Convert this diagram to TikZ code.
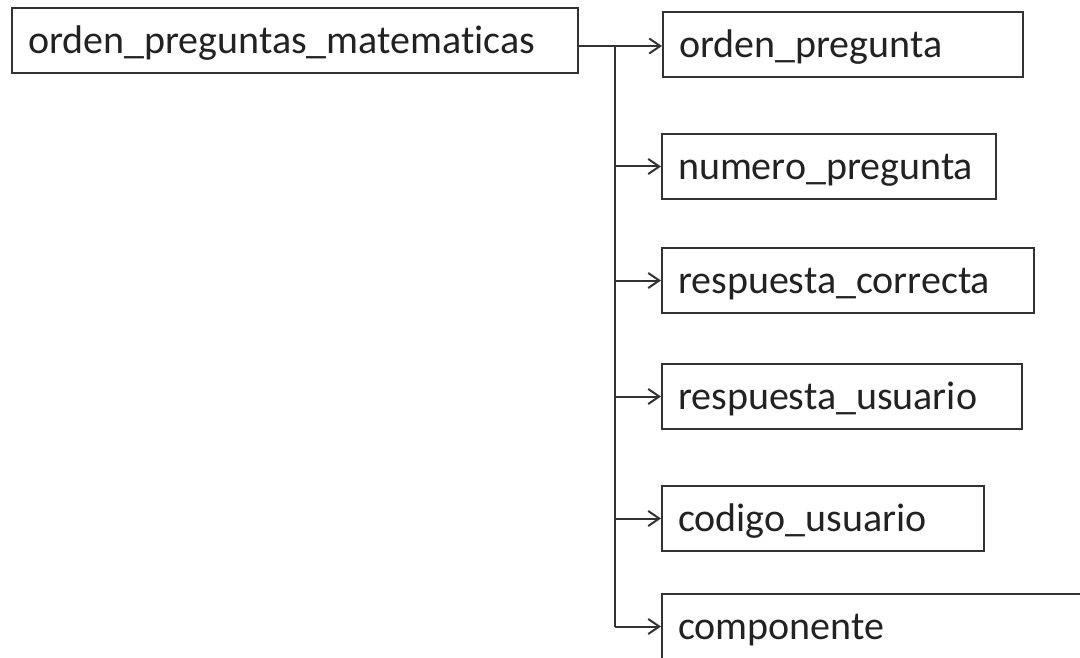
\documentclass[tikz,border=0pt]{standalone}
\usepackage{fontspec}
\setmainfont{Carlito}[Ligatures=NoCommon]
\usetikzlibrary{arrows.meta}
\definecolor{ln}{HTML}{333333}
\definecolor{tx}{HTML}{222222}
\begin{document}
\begin{tikzpicture}[x=1pt,y=-1pt,
  field/.style={draw=ln, line width=2pt, anchor=north west, inner ysep=0pt, inner xsep=16pt,
    minimum height=65pt, text width=#1-32pt, minimum width=#1, align=left,
    text=tx, font=\fontsize{40}{40}\selectfont, text depth=6pt, text height=32pt},
  conn/.style={draw=ln, line width=2pt},
  arr/.style={conn, -{Straight Barb[length=11pt,width=15pt,line width=2pt]}}]
\useasboundingbox (0,0) rectangle (1080,658);
\clip (0,0) rectangle (1080,658);
\fill[white] (0,0) rectangle (1080,658);
\node[field=566pt] (main) at (11,7) {orden\_preguntas\_matematicas};
\node[field=360pt] (op) at (662,11) {orden\_pregunta};
\node[field=334pt] (np) at (661,133) {numero\_pregunta};
\node[field=372pt] (rc) at (661,247) {respuesta\_correcta};
\node[field=360pt] (ru) at (661,363) {respuesta\_usuario};
\node[field=322pt] (cu) at (661,485) {codigo\_usuario};
\node[field=440pt] (cp) at (661,593) {componente};
\coordinate (j) at (615,46);
\draw[conn] (main.east |- j) -- (j);
\draw[conn] (j) -- (j |- cp.west);
\draw[arr] (j) -- (op.west |- j);
\foreach \b in {np,rc,ru,cu,cp}{
  \draw[arr] (j |- \b.west) -- (\b.west);
}
\end{tikzpicture}
\end{document}
